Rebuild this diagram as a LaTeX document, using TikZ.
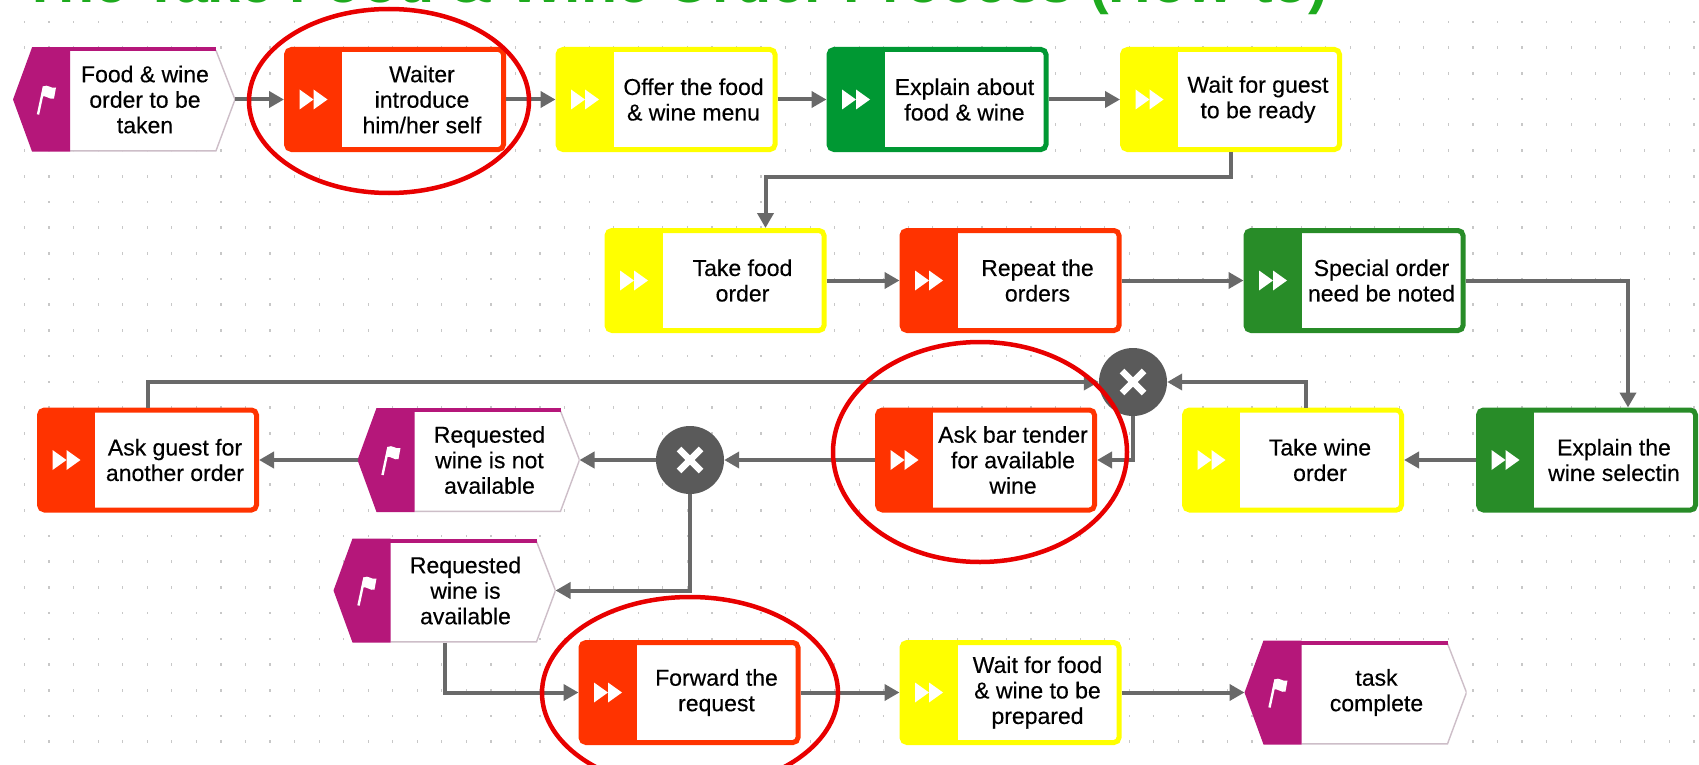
\documentclass[tikz,border=0pt]{standalone}
\usepackage{fontspec}
\setmainfont{Liberation Sans}
\newfontfamily\boxfont[FakeBold=0.35]{Liberation Sans}
\usetikzlibrary{arrows.meta,calc}

\definecolor{actred}{RGB}{255,51,0}
\definecolor{actyel}{RGB}{255,255,0}
\definecolor{actgrn}{RGB}{0,152,51}
\definecolor{actdkg}{RGB}{40,140,40}
\definecolor{evpur}{RGB}{181,23,122}
\definecolor{evline}{RGB}{205,190,200}
\definecolor{gatec}{RGB}{90,90,90}
\definecolor{connc}{RGB}{105,105,105}
\definecolor{markred}{RGB}{232,0,0}
\definecolor{titlegrn}{RGB}{30,170,30}
\definecolor{dotc}{RGB}{200,200,200}

\def\ppbb{path picture bounding box}

\begin{document}
\begin{tikzpicture}[x=1pt,y=-1pt,
  % activity box: coloured frame, coloured band on the left with a play icon
  task/.style={rectangle, rounded corners=5pt, draw=#1, fill=white, line width=5pt,
    minimum width=217pt, minimum height=100pt, inner sep=0pt,
    path picture={
      \fill[#1, sharp corners] ([shift={(-4pt,-4pt)}]\ppbb.south west) rectangle ([shift={(55.5pt,4pt)}]\ppbb.north west);
      \fill[white, sharp corners] ([shift={(13pt,10pt)}]\ppbb.west) -- ([shift={(27pt,0pt)}]\ppbb.west) -- ([shift={(13pt,-10pt)}]\ppbb.west) -- cycle;
      \fill[white, sharp corners] ([shift={(27pt,10pt)}]\ppbb.west) -- ([shift={(41pt,0pt)}]\ppbb.west) -- ([shift={(27pt,-10pt)}]\ppbb.west) -- cycle;
    }},
  % event: hexagon with a purple band and a white flag
  event/.style={rectangle, minimum width=222pt, minimum height=104pt, inner sep=0pt, outer sep=0pt,
    path picture={
      \fill[white] ([xshift=19pt]\ppbb.north west) -- ([xshift=-19pt]\ppbb.north east) -- (\ppbb.east)
        -- ([xshift=-19pt]\ppbb.south east) -- ([xshift=19pt]\ppbb.south west) -- (\ppbb.west) -- cycle;
      \draw[evline, line width=1.4pt] ([shift={(-19pt,-3pt)}]\ppbb.north east) -- (\ppbb.east)
        -- ([shift={(-19pt,0.7pt)}]\ppbb.south east) -- ([shift={(57pt,0.7pt)}]\ppbb.south west);
      \fill[evpur] (\ppbb.west) -- ([xshift=19pt]\ppbb.north west) -- ([xshift=57pt]\ppbb.north west)
        -- ([xshift=57pt]\ppbb.south west) -- ([xshift=19pt]\ppbb.south west) -- cycle;
      \fill[evpur] ([xshift=19pt]\ppbb.north west) rectangle ([shift={(-19pt,-4pt)}]\ppbb.north east);
      \draw[white, line width=2.4pt] ([shift={(25pt,-15pt)}]\ppbb.west) -- ([shift={(31pt,13pt)}]\ppbb.west);
      \fill[white] ([shift={(30pt,13pt)}]\ppbb.west)
        .. controls ([shift={(35pt,16pt)}]\ppbb.west) and ([shift={(38pt,10pt)}]\ppbb.west) .. ([shift={(43pt,12pt)}]\ppbb.west)
        -- ([shift={(41pt,1pt)}]\ppbb.west)
        .. controls ([shift={(37pt,-1pt)}]\ppbb.west) and ([shift={(33pt,5pt)}]\ppbb.west) .. ([shift={(28pt,3pt)}]\ppbb.west) -- cycle;
    }},
  % exclusive gateway
  gate/.style={circle, fill=gatec, minimum size=68pt, inner sep=0pt,
    path picture={
      \draw[white, line width=6.5pt] ([shift={(-11pt,-11pt)}]\ppbb.center) -- ([shift={(11pt,11pt)}]\ppbb.center);
      \draw[white, line width=6.5pt] ([shift={(-11pt,11pt)}]\ppbb.center) -- ([shift={(11pt,-11pt)}]\ppbb.center);
    }},
  txt/.style={align=center, font=\boxfont\fontsize{23}{25.5}\selectfont, inner sep=0pt, text=black},
  conn/.style={draw=connc, line width=4pt, -{Triangle[length=15pt,width=16pt]}},
  ring/.style={draw=markred, line width=4.5pt}
]

% canvas
\fill[white] (0,0) rectangle (1699,765);
\useasboundingbox (0,0) rectangle (1699,765);

% dotted grid
\foreach \gx in {24.5,49.05,...,1699}
  \foreach \gy in {22,47.7,...,765}
    \fill[dotc] (\gx-0.6,\gy-1.3) rectangle (\gx+0.6,\gy+1.3);

% heading, mostly above the top edge
\node[anchor=base west, inner sep=0pt, text=titlegrn, font=\fontsize{59}{62}\selectfont\bfseries] (title) at (22,3)
  {The Take Food \& Wine Order Process (How-to)};

% row 1
\node[event] (E1) at (124,99.5) {};
\node[txt] (E1t) at ([xshift=21pt]E1.center) {Food \& wine\\order to be\\taken};
\node[task=actred] (F1) at (395,99.5) {};
\node[txt] (F1t) at ([xshift=27pt]F1.center) {Waiter\\introduce\\him/her self};
\node[task=actyel] (F2) at (666.5,99.5) {};
\node[txt] (F2t) at ([xshift=27pt]F2.center) {Offer the food\\\& wine menu};
\node[task=actgrn] (F3) at (937.5,99.5) {};
\node[txt] (F3t) at ([xshift=27pt]F3.center) {Explain about\\food \& wine};
\node[task=actyel] (F4) at (1231,99.5) {};
\node[txt] (F4t) at ([xshift=27pt]F4.center) {Wait for guest\\to be ready};

% row 2
\node[task=actyel] (F5) at (715.5,280.5) {};
\node[txt] (F5t) at ([xshift=27pt]F5.center) {Take food\\order};
\node[task=actred] (F6) at (1010.5,280.5) {};
\node[txt] (F6t) at ([xshift=27pt]F6.center) {Repeat the\\orders};
\node[task=actdkg] (F7) at (1354.5,280.5) {};
\node[txt] (F7t) at ([xshift=27pt]F7.center) {Special order\\need be noted};

% row 3
\node[task=actdkg] (F8) at (1587,460) {};
\node[txt] (F8t) at ([xshift=27pt]F8.center) {Explain the\\wine selectin};
\node[task=actyel] (F9) at (1293,460) {};
\node[txt] (F9t) at ([xshift=27pt]F9.center) {Take wine\\order};
\node[gate] (X1) at (1133,382) {};
\node[task=actred] (F10) at (986,460) {};
\node[txt] (F10t) at ([xshift=27pt]F10.center) {Ask bar tender\\for available\\wine};
\node[gate] (X2) at (690,460) {};
\node[event] (E2) at (468.5,460) {};
\node[txt] (E2t) at ([xshift=21pt]E2.center) {Requested\\wine is not\\available};
\node[task=actred] (F11) at (148,460) {};
\node[txt] (F11t) at ([xshift=27pt]F11.center) {Ask guest for\\another order};

% rows 4 and 5
\node[event] (E3) at (444.5,590.5) {};
\node[txt] (E3t) at ([xshift=21pt]E3.center) {Requested\\wine is\\available};
\node[task=actred] (F12) at (689.5,692.5) {};
\node[txt] (F12t) at ([xshift=27pt]F12.center) {Forward the\\request};
\node[task=actyel] (F13) at (1010.5,692.5) {};
\node[txt] (F13t) at ([xshift=27pt]F13.center) {Wait for food\\\& wine to be\\prepared};
\node[event] (E4) at (1355.5,692.5) {};
\node[txt] (E4t) at ([xshift=21pt]E4.center) {task\\complete};

% flow
\draw[conn] (E1.east) -- (F1.west);
\draw[conn] (F1.east) -- (F2.west);
\draw[conn] (F2.east) -- (F3.west);
\draw[conn] (F3.east) -- (F4.west);
\draw[conn] (F4.south) -- ++(0,25) -| ([xshift=50pt]F5.north);
\draw[conn] (F5.east) -- (F6.west);
\draw[conn] (F6.east) -- (F7.west);
\draw[conn] (F7.east) -| ([xshift=41pt]F8.north);
\draw[conn] (F8.west) -- (F9.east);
\draw[conn] ([xshift=13pt]F9.north) |- (X1.east);
\draw[conn] (X1.south) |- (F10.east);
\draw[conn] (F10.west) -- (X2.east);
\draw[conn] (X2.west) -- (E2.east);
\draw[conn] (E2.west) -- (F11.east);
\draw[conn] (F11.north) |- (X1.west);
\draw[conn] (X2.south) |- (E3.east);
\draw[conn] (E3.south) |- (F12.west);
\draw[conn] (F12.east) -- (F13.west);
\draw[conn] (F13.east) -- (E4.west);

% hand-drawn highlight rings
\draw[ring] (389,101) ellipse [x radius=140pt, y radius=92pt];
\draw[ring] (980,452) ellipse [x radius=147pt, y radius=110pt];
\draw[ring] (690,693) ellipse [x radius=148pt, y radius=96pt];

\end{tikzpicture}
\end{document}
